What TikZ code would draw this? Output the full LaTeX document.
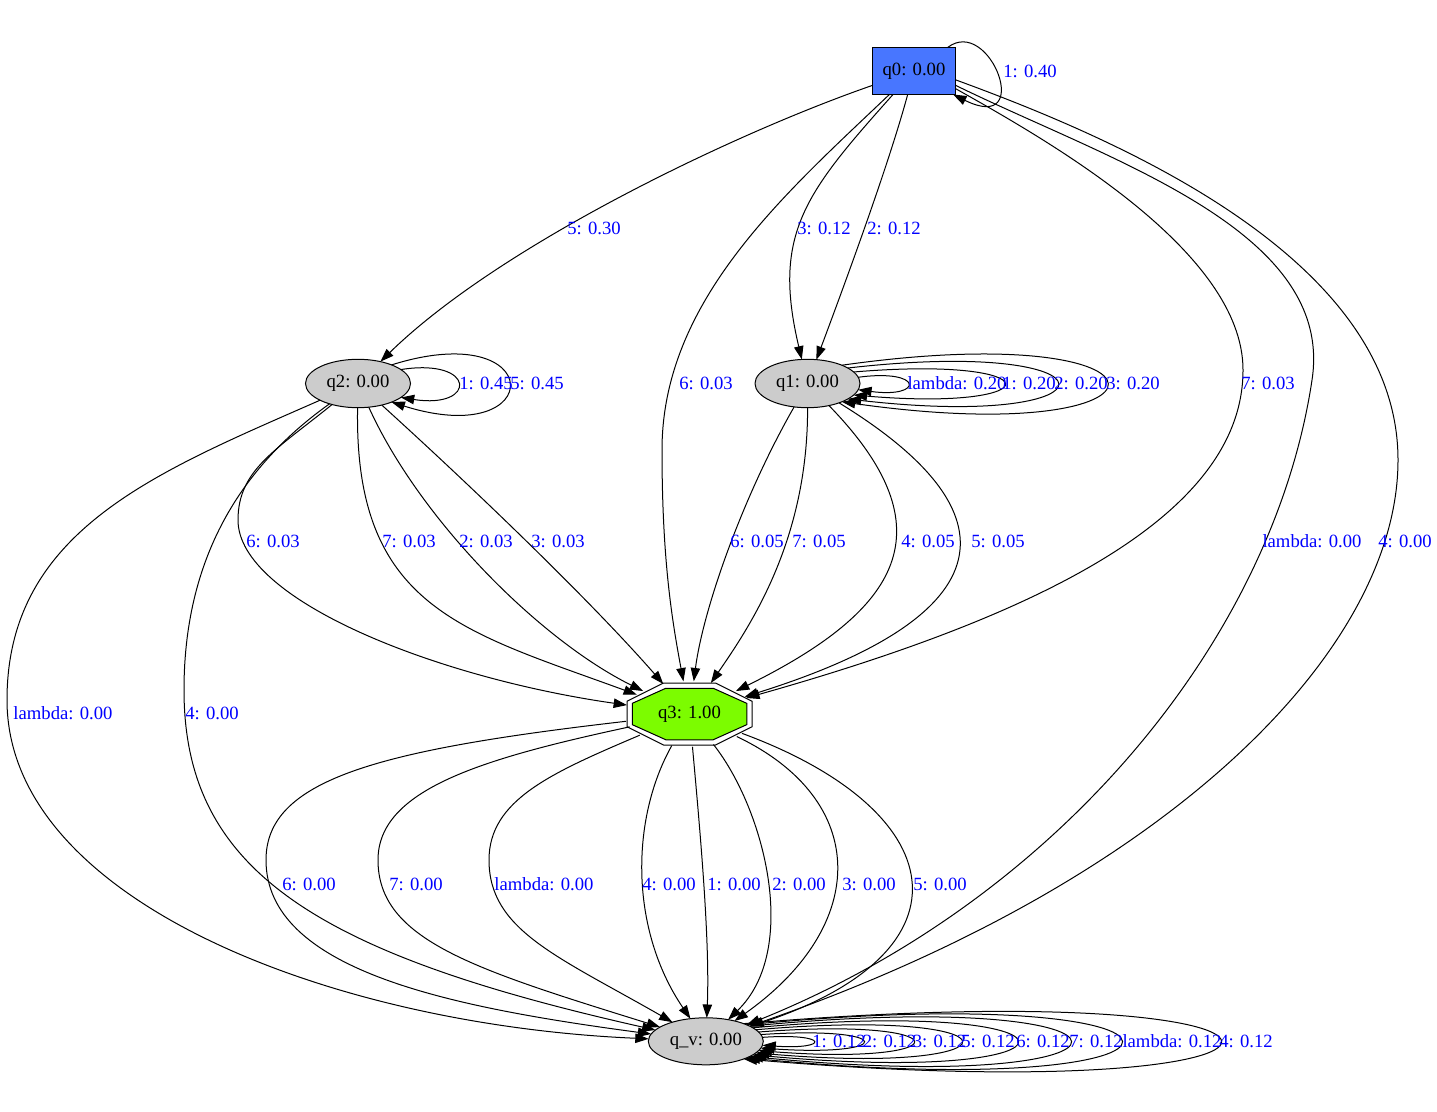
\documentclass[tikz,border=0pt]{standalone}
\usepackage{fontspec}
\setmainfont{Liberation Serif}
\usetikzlibrary{arrows.meta}
\usetikzlibrary{shapes.geometric}
\usetikzlibrary{backgrounds}
\tikzset{>={Stealth[inset=0pt,angle=39:10.6pt]}}
\definecolor{qblue}{RGB}{72,118,255}
\definecolor{qgray}{RGB}{204,204,204}
\definecolor{qgreen}{RGB}{124,252,0}
\tikzset{
  qbox/.style={draw, fill=qblue, minimum width=62.25pt, minimum height=35.25pt, inner sep=0pt, outer sep=0pt, line width=0.75pt, font=\fontsize{14pt}{16pt}\selectfont},
  qell/.style={ellipse, draw, fill=qgray, minimum width=78.75pt, minimum height=36.3pt, inner sep=0pt, outer sep=0pt, line width=0.75pt, font=\fontsize{14pt}{16pt}\selectfont},
  qoct/.style={ellipse, minimum width=97.5pt, minimum height=49.2pt, inner sep=0pt, outer sep=0pt, font=\fontsize{14pt}{16pt}\selectfont},
  trans/.style={->, line width=0.75pt},
  prob/.style={text=blue, inner sep=0pt, font=\fontsize{14pt}{16pt}\selectfont}
}
\begin{document}
\begin{tikzpicture}[x=0.75pt,y=0.75pt,yscale=-1,xscale=1]
\useasboundingbox (0,0) rectangle (1437,1112);

%States
\node[qbox] (q0) at (914,71) {q0: 0.00};
\node[qell] (q1) at (807.5,383.5) {q1: 0.00};
\node[qell] (q2) at (358,383.5) {q2: 0.00};
\node[qoct] (q3) at (689.5,714) {q3: 1.00};
\node[qell, minimum width=86.25pt, minimum height=35.25pt] (qv) at (705.8,1041.3) {q\_v: 0.00};
%Shape: Double Octagon
\begin{scope}[on background layer]
\draw [line width=0.75pt, fill=white, shift={(q3.center)}] (-62.5,-12.8) -- (-25.9,-31) -- (25.9,-31) -- (62.5,-12.8) -- (62.5,12.8) -- (25.9,31) -- (-25.9,31) -- (-62.5,12.8) -- cycle ;
\draw [line width=0.75pt, fill=qgreen, shift={(q3.center)}] (-57.25,-10.66) -- (-23.7,-25.75) -- (23.7,-25.75) -- (57.25,-10.66) -- (57.25,10.66) -- (23.7,25.75) -- (-23.7,25.75) -- (-57.25,10.66) -- cycle ;
\end{scope}

%Curve Lines from q0
\draw [trans] (q0.35) .. controls (990,15) and (1035,135) .. (q0.-31);
\draw [trans] (q0) .. controls (735,133) and (500,245) .. (q2);
\draw [trans] (q0) .. controls (786,193) and (662,300) .. (662,450) .. controls (662,560) and (672,620) .. (q3);
\draw [trans] (q0) .. controls (805,193) and (772,234) .. (q1);
\draw [trans] (q0) .. controls (890,160) and (850,270) .. (q1);
\draw [trans] (q0.-23) .. controls (1045,139) and (1243,250) .. (1243,370) .. controls (1243,520) and (1026,619) .. (q3);
\draw [trans] (q0.-19) .. controls (1110,161) and (1335,230) .. (1312,380) .. controls (1273,640) and (1057,900) .. (qv);
\draw [trans] (q0.-12) .. controls (1123,141) and (1398,260) .. (1398,460) .. controls (1398,650) and (1170,880) .. (qv);

%Curve Lines from q2
\draw [trans] (q2.18) .. controls (477,357.5) and (477,409.5) .. (q2.-18);
\draw [trans] (q2.29) .. controls (548,315.6) and (548,451.4) .. (q2.-29);
\draw [trans] (q2) .. controls (157,472) and (7,530) .. (7,700) .. controls (7,900) and (330,1025) .. (qv);
\draw [trans] (q2) .. controls (248,462) and (184,550) .. (184,690) .. controls (184,870) and (315,953.5) .. (qv);
\draw [trans] (q2) .. controls (276,450) and (238,470) .. (238,520) .. controls (238,600) and (437,678) .. (q3);
\draw [trans] (q2) .. controls (354,608) and (463,631) .. (q3);
\draw [trans] (q2) .. controls (420,520) and (540,640) .. (q3);
\draw [trans] (q2) .. controls (470,485) and (590,600) .. (q3);

%Curve Lines from q1
\draw [trans] (q1.7) .. controls (924,368.3) and (924,398.7) .. (q1.-7);
\draw [trans] (q1.14) .. controls (1054,355.1) and (1054,411.9) .. (q1.-14);
\draw [trans] (q1.21) .. controls (1127,336.1) and (1127,430.9) .. (q1.-21);
\draw [trans] (q1.28) .. controls (1195,315.1) and (1195,451.9) .. (q1.-28);
\draw [trans] (q1) .. controls (742,498) and (703,610) .. (q3);
\draw [trans] (q1) .. controls (808,540) and (750.5,625.5) .. (q3);
\draw [trans] (q1) .. controls (950,530) and (900,610) .. (q3);
\draw [trans] (q1) .. controls (1030,520) and (990,620) .. (q3);

%Curve Lines from q3
\draw [trans] (q3) .. controls (376,750) and (266,780) .. (266,860) .. controls (266,970) and (448.5,1007) .. (qv);
\draw [trans] (q3) .. controls (480,759) and (378,790) .. (378,860) .. controls (378,940) and (473.6,969) .. (qv);
\draw [trans] (q3) .. controls (551,773) and (489,800) .. (489,860) .. controls (489,930) and (557,956) .. (qv);
\draw [trans] (q3) .. controls (630,820) and (630,930) .. (qv);
\draw [trans] (q3) .. controls (700,830) and (710,940) .. (qv);
\draw [trans] (q3) .. controls (765,810) and (800,950) .. (qv);
\draw [trans] (q3) .. controls (870,800) and (870,925) .. (qv);
\draw [trans] (q3) .. controls (950,810) and (980,950) .. (qv);

%Curve Lines from q_v
\draw [trans] (qv.4) .. controls (830,1032.7) and (830,1049.9) .. (qv.-4);
\draw [trans] (qv.7) .. controls (897,1025.4) and (897,1057.2) .. (qv.-7);
\draw [trans] (qv.10) .. controls (964.5,1016) and (964.5,1066.6) .. (qv.-10);
\draw [trans] (qv.13) .. controls (1029.4,1006.1) and (1029.4,1076.5) .. (qv.-13);
\draw [trans] (qv.16) .. controls (1105.1,995.6) and (1105.1,1087) .. (qv.-16);
\draw [trans] (qv.19) .. controls (1176.7,984.6) and (1176.7,1098) .. (qv.-19);
\draw [trans] (qv.22) .. controls (1245.7,976.6) and (1245.7,1106) .. (qv.-22);
\draw [trans] (qv.25) .. controls (1378.8,970.1) and (1378.8,1112.5) .. (qv.-25);

%Labels
\node[prob] (p00) at (1030,71) {1: 0.40};
\node[prob] (p02) at (594,228) {5: 0.30};
\node[prob] (p01a) at (824,228) {3: 0.12};
\node[prob] (p01b) at (894,228) {2: 0.12};
\node[prob] (p03a) at (706,383) {6: 0.03};
\node[prob] (p03b) at (1268,383) {7: 0.03};
\node[prob] (p0va) at (1312,541) {lambda: 0.00};
\node[prob] (p0vb) at (1405,541) {4: 0.00};
\node[prob] (p22a) at (486,383) {1: 0.45};
\node[prob] (p22b) at (537,383) {5: 0.45};
\node[prob] (p11a) at (957,383) {lambda: 0.20};
\node[prob] (p11b) at (1029,383) {1: 0.20};
\node[prob] (p11c) at (1081,383) {2: 0.20};
\node[prob] (p11d) at (1133,383) {3: 0.20};
\node[prob] (p23a) at (273,541) {6: 0.03};
\node[prob] (p23b) at (409,541) {7: 0.03};
\node[prob] (p23c) at (486,541) {2: 0.03};
\node[prob] (p23d) at (558,541) {3: 0.03};
\node[prob] (p13a) at (757,541) {6: 0.05};
\node[prob] (p13b) at (819,541) {7: 0.05};
\node[prob] (p13c) at (928,541) {4: 0.05};
\node[prob] (p13d) at (998,541) {5: 0.05};
\node[prob] (p2va) at (63,713) {lambda: 0.00};
\node[prob] (p2vb) at (212,713) {4: 0.00};
\node[prob] (p3va) at (309,884) {6: 0.00};
\node[prob] (p3vb) at (416,884) {7: 0.00};
\node[prob] (p3vc) at (544,884) {lambda: 0.00};
\node[prob] (p3vd) at (669,884) {4: 0.00};
\node[prob] (p3ve) at (734,884) {1: 0.00};
\node[prob] (p3vf) at (799,884) {2: 0.00};
\node[prob] (p3vg) at (869,884) {3: 0.00};
\node[prob] (p3vh) at (940,884) {5: 0.00};
\node[prob] (pvva) at (839,1041) {1: 0.12};
\node[prob] (pvvb) at (889.5,1041) {2: 0.12};
\node[prob] (pvvc) at (939.5,1041) {3: 0.12};
\node[prob] (pvvd) at (988,1041) {5: 0.12};
\node[prob] (pvve) at (1043,1041) {6: 0.12};
\node[prob] (pvvf) at (1096,1041) {7: 0.12};
\node[prob] (pvvg) at (1172,1041) {lambda: 0.12};
\node[prob] (pvvh) at (1246,1041) {4: 0.12};
\end{tikzpicture}
\end{document}
